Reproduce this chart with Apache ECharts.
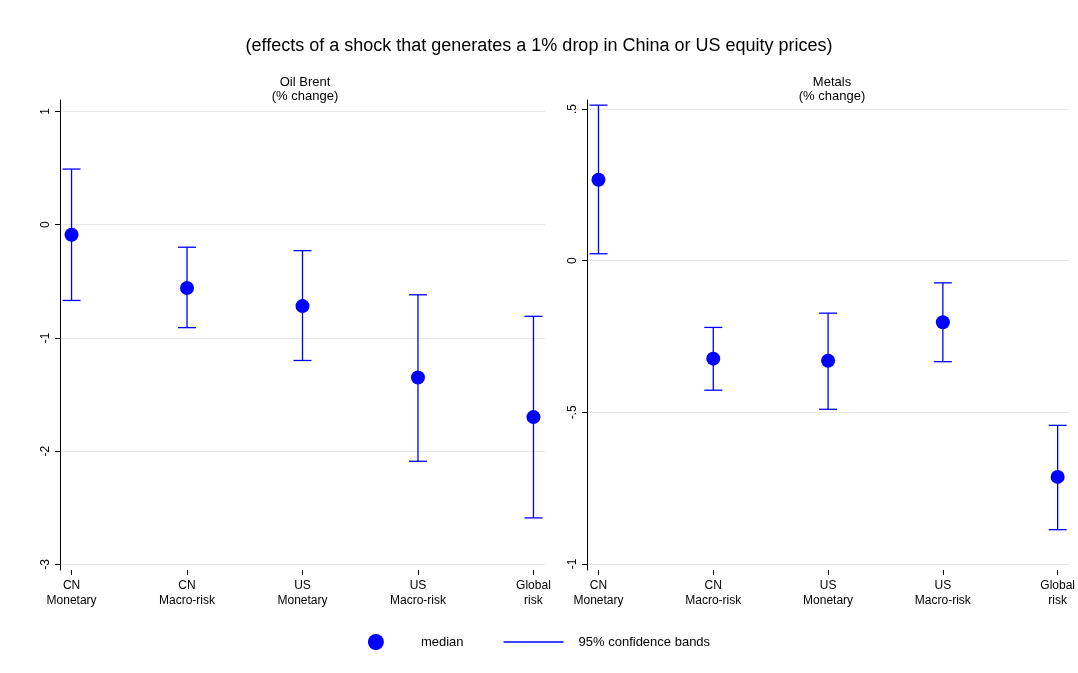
<!DOCTYPE html>
<html>
<head>
<meta charset="UTF-8">
<script src="https://cdn.jsdelivr.net/npm/echarts@6/dist/echarts.min.js"></script>
<style>html,body{margin:0;background:#fff}#c{width:1078px;height:673px}</style>
</head>
<body>
<div id="c"></div>
<script>
var categories = ['CN\nMonetary', 'CN\nMacro-risk', 'US\nMonetary', 'US\nMacro-risk', 'Global\nrisk'];
var oilMedian = [-0.09, -0.56, -0.72, -1.35, -1.70];
var oilUpper = [0.49, -0.20, -0.23, -0.62, -0.81];
var oilLower = [-0.67, -0.91, -1.20, -2.09, -2.59];
var metMedian = [0.267, -0.323, -0.33, -0.203, -0.713];
var metUpper = [0.513, -0.22, -0.173, -0.073, -0.543];
var metLower = [0.023, -0.427, -0.49, -0.333, -0.887];
var oilTicks = [1, 0, -1, -2, -3];
var metTicks = [0.5, 0, -0.5, -1];

var blue = '#0000ff';
var chart = echarts.init(document.getElementById('c'));

function bars(lo, hi) {
  return lo.map(function (v, i) { return [i + 1, v, hi[i]]; });
}
function pts(m) {
  return m.map(function (v, i) { return [i + 1, v]; });
}
function errSeries(idx, data, name) {
  return {
    type: 'custom', name: name, xAxisIndex: idx, yAxisIndex: idx, data: data,
    renderItem: function (params, api) {
      var lo = api.coord([api.value(0), api.value(1)]);
      var hi = api.coord([api.value(0), api.value(2)]);
      var w = 9;
      var st = { stroke: blue, lineWidth: 1.3 };
      return { type: 'group', children: [
        { type: 'line', shape: { x1: lo[0], y1: lo[1], x2: hi[0], y2: hi[1] }, style: st },
        { type: 'line', shape: { x1: lo[0] - w, y1: lo[1], x2: lo[0] + w, y2: lo[1] }, style: st },
        { type: 'line', shape: { x1: hi[0] - w, y1: hi[1], x2: hi[0] + w, y2: hi[1] }, style: st }
      ]};
    }
  };
}
function xAx(idx) {
  return {
    type: 'value', gridIndex: idx, min: 0.9, max: 5.1, interval: 1, position: 'bottom',
    axisLine: { show: false, onZero: false }, splitLine: { show: false },
    axisTick: { show: true, length: 5, lineStyle: { color: '#000' }, customValues: [1, 2, 3, 4, 5] },
    axisLabel: { color: '#000', fontSize: 12, lineHeight: 15, margin: 8, customValues: [1, 2, 3, 4, 5],
      formatter: function (v) { return categories[Math.round(v) - 1] || ''; } }
  };
}
function yAx(idx, min, max, ticks, fmt) {
  return {
    type: 'value', gridIndex: idx, min: min, max: max,
    axisLine: { show: true, onZero: false, lineStyle: { color: '#000' } },
    axisTick: { show: true, length: 5, lineStyle: { color: '#000' }, customValues: ticks },
    axisLabel: { color: '#000', fontSize: 12, rotate: 90, margin: 8, customValues: ticks, formatter: fmt },
    splitLine: { show: true, lineStyle: { color: '#e8e8e8' } }
  };
}

chart.setOption({
  backgroundColor: '#fff',
  title: [
    { text: '(effects of a shock that generates a 1% drop in China or US equity prices)', left: 'center', top: 32,
      textStyle: { fontSize: 18, fontWeight: 'normal', color: '#000', fontFamily: 'Liberation Sans' } },
    { text: 'Oil Brent\n(% change)', left: 300, top: 70, textAlign: 'center',
      textStyle: { fontSize: 13, fontWeight: 'normal', color: '#000', lineHeight: 14 } },
    { text: 'Metals\n(% change)', left: 827, top: 70, textAlign: 'center',
      textStyle: { fontSize: 13, fontWeight: 'normal', color: '#000', lineHeight: 14 } }
  ],
  textStyle: { fontFamily: 'Liberation Sans' },
  legend: {
    bottom: 18, left: 'center', itemGap: 40, textStyle: { fontSize: 13, color: '#000', padding: [0, 0, 0, 10] },
    data: [
      { name: 'median', icon: 'circle', itemStyle: { color: blue } },
      { name: '95% confidence bands', icon: 'path://M0,0L60,0L60,1.5L0,1.5Z', itemStyle: { color: blue } }
    ],
    itemWidth: 60, itemHeight: 16
  },
  grid: [
    { left: 60, top: 100, width: 485, height: 470 },
    { left: 587, top: 100, width: 485, height: 470 }
  ],
  xAxis: [xAx(0), xAx(1)],
  yAxis: [
    yAx(0, -3.05, 1.1, oilTicks, function (v) { return String(v); }),
    yAx(1, -1.02, 0.53, metTicks, function (v) { return v === 0 ? '0' : String(v).replace('0.', '.'); })
  ],
  series: [
    errSeries(0, bars(oilLower, oilUpper), '95% confidence bands'),
    errSeries(1, bars(metLower, metUpper), '95% confidence bands'),
    { type: 'scatter', name: 'median', xAxisIndex: 0, yAxisIndex: 0, data: pts(oilMedian), symbolSize: 14, itemStyle: { color: blue, opacity: 1 } },
    { type: 'scatter', name: 'median', xAxisIndex: 1, yAxisIndex: 1, data: pts(metMedian), symbolSize: 14, itemStyle: { color: blue, opacity: 1 } }
  ]
});
</script>
</body>
</html>
